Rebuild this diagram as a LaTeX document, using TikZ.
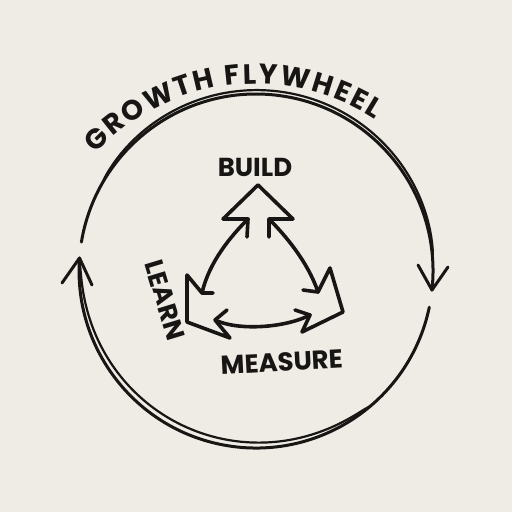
\documentclass[tikz,border=0pt]{standalone}
\usepackage{fontspec}
\setmainfont{Poppins}
\usetikzlibrary{decorations.text}
\definecolor{paper}{RGB}{239,236,229}
\definecolor{ink}{RGB}{24,22,20}
\begin{document}
\begin{tikzpicture}[x=1pt,y=-1pt,line cap=round,line join=round,
  circ/.style={draw=ink,line width=3pt},
  circthin/.style={draw=ink,line width=2.2pt},
  tri/.style={draw=ink,line width=3.6pt},
  lbl/.style={text=ink,inner sep=0pt,font=\bfseries\fontsize{26}{26}\selectfont}]
\path[fill=paper] (0,0) rectangle (512,512);
\useasboundingbox (0,0) rectangle (512,512);
% circle end points
\coordinate (topstart) at (81.4,242.1);
\coordinate (rtip) at (432,290);
\coordinate (rw1) at (418,265);
\coordinate (rw2) at (448,267);
\coordinate (botstart) at (429.3,307.2);
\coordinate (ltip) at (79.5,258);
\coordinate (lw1) at (62,283);
\coordinate (lw2) at (92,285);
% top arc
\draw[circ] (topstart) arc[start angle=-170.6,end angle=6.2,radius=177];
\draw[circthin] plot[domain=-150:-4,samples=80,smooth]
  ({256+(177+4*sqrt(abs(sin((\x+150)/146*180))))*cos(\x)},{271+(177+4*sqrt(abs(sin((\x+150)/146*180))))*sin(\x)});
\draw[circ] (rw1) -- (rtip) -- (rw2);
% bottom arc
\draw[circ] (botstart) arc[start angle=11.8,end angle=184.2,radius=177];
\draw[circthin] plot[domain=50:183,samples=80,smooth]
  ({256+(177-6*sqrt(abs(sin((\x-50)/133*180))))*cos(\x)},{271+(177-6*sqrt(abs(sin((\x-50)/133*180))))*sin(\x)});
\draw[circ] (lw1) -- (ltip) -- (lw2);
% title along arc
\coordinate (ta) at (95.8,153.4);
\path[decorate,decoration={text along path,text align=fit to path,
  text={|\bfseries\fontsize{28}{28}\selectfont\color{ink}|GROWTH FLYWHEEL}}]
  (ta) arc[start angle=-137,end angle=-57,radius=219];
% triangle vertices
\coordinate (ba) at (247,237); \coordinate (bc) at (248,219);
\coordinate (bw) at (223,219); \coordinate (btip) at (258,185);
\coordinate (bw2) at (293,219); \coordinate (bc2) at (269,219);
\coordinate (ba2) at (269,237);
\coordinate (la) at (213,293); \coordinate (lc) at (202,293);
\coordinate (lw) at (187,275); \coordinate (ltp) at (187,322);
\coordinate (lw3) at (230,338); \coordinate (lc2) at (215,320);
\coordinate (la2) at (227,310);
\coordinate (ma) at (303,290); \coordinate (mc) at (318,292);
\coordinate (mw) at (330,268); \coordinate (mtp) at (343,312);
\coordinate (mw2) at (302,332); \coordinate (mc2) at (310,315);
\coordinate (ma2) at (295,310);
\draw[tri] (ba) -- (bc) -- (bw) -- (btip) -- (bw2) -- (bc2) -- (ba2);
\draw[tri] (la) -- (lc) -- (lw) -- (ltp) -- (lw3) -- (lc2) -- (la2);
\draw[tri] (ma) -- (mc) -- (mw) -- (mtp) -- (mw2) -- (mc2) -- (ma2);
\draw[tri] (bc) .. controls (231,236) and (209,262) .. (lc);
\draw[tri] (bc2) .. controls (285,235) and (308,262) .. (mc);
\draw[tri] (lc2) .. controls (238,331) and (285,328) .. (mc2);
% labels
\node[lbl] (build) at (255,167) {BUILD};
\node[lbl,rotate=-73] (learn) at (165,300) {LEARN};
\node[lbl,rotate=3] (measure) at (282,362) {MEASURE};
\end{tikzpicture}
\end{document}
